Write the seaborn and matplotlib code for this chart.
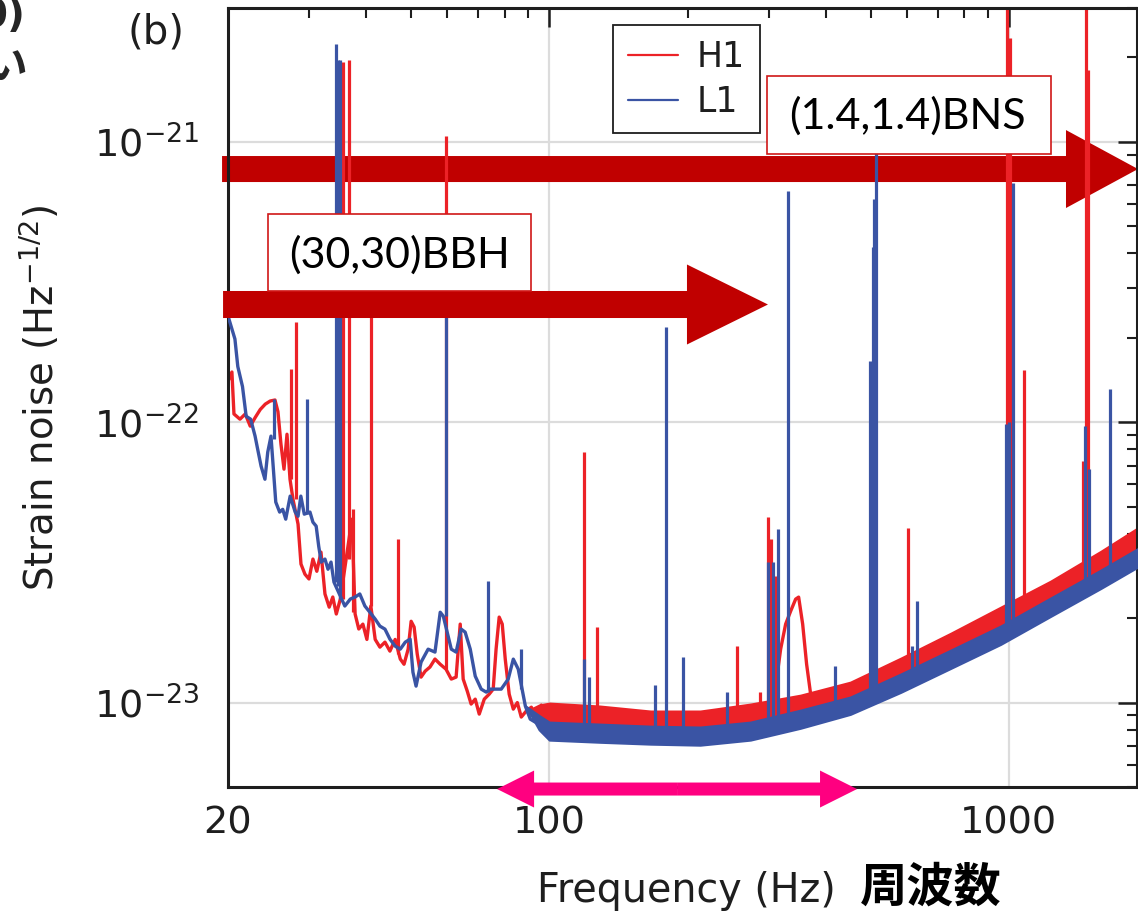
import numpy as np
import matplotlib
matplotlib.use("Agg")
import matplotlib.pyplot as plt
import seaborn as sns
from matplotlib.patches import FancyArrow, Rectangle
from matplotlib.ticker import FixedLocator, FixedFormatter, LogLocator, NullFormatter

# ---------------- data (strain values in units of 1e-23 Hz^-1/2) ----------------
UNIT = 1e-23

h1_freq = np.array([
    20.0, 20.39, 20.6, 21.23, 21.8, 22.35, 22.92, 23.5, 24.1, 24.7,
    25.3, 25.68, 26.07, 26.47, 26.87, 27.28, 27.69, 28.4, 28.82, 29.4,
    30.0, 30.6, 31.2, 31.86, 32.5, 33.2, 33.8, 34.4, 35.1, 37.2,
    37.8, 38.5, 39.3, 40.1, 40.9, 41.8, 42.8, 43.9, 45.0, 46.2,
    47.4, 48.3, 49.3, 50.05, 50.8, 51.6, 52.6, 53.7, 55.0, 56.4,
    57.9, 59.6, 61.2, 62.7, 64.0, 64.96, 66.3, 67.6, 69.0, 70.4,
    72.2, 74.0, 75.5, 76.6, 77.8, 79.0, 80.2, 81.8, 83.5, 85.2,
    86.9, 89.1, 91.4, 93.7, 96.1, 98.5,
    100, 129, 166, 213, 274, 298, 312.4, 318.7, 326.8, 335.1,
    343.6, 348.8, 355.9, 363.0, 370.4, 379.8, 452, 582, 748, 960,
    1233, 1587, 1919])
h1_amp = np.array([
    14.0, 15.1, 10.7, 10.25, 10.7, 9.68, 10.4, 11.1, 11.6, 11.9,
    12.0, 10.9, 8.35, 6.8, 9.06, 6.26, 5.31, 4.33, 3.12, 2.87,
    2.76, 3.25, 2.94, 3.44, 2.44, 2.19, 2.38, 2.07, 2.34, 4.51,
    2.07, 1.83, 1.905, 1.68, 2.21, 1.68, 1.577, 1.643, 1.526, 1.68,
    1.43, 1.37, 1.55, 1.95, 1.86, 1.49, 1.233, 1.295, 1.339, 1.43,
    1.37, 1.316, 1.213, 1.233, 1.905, 1.213, 1.099, 0.988, 1.029, 0.91,
    1.029, 1.072, 1.117, 1.551, 2.018, 1.905, 1.429, 1.072, 0.948, 1.0,
    0.888, 0.933, 0.963, 0.888, 0.98, 0.917,
    0.91, 0.88, 0.85, 0.85, 0.91, 0.93, 1.213, 1.551, 1.905, 2.119,
    2.339, 2.378, 1.905, 1.371, 1.072, 0.988, 1.10, 1.33, 1.61, 1.97,
    2.44, 3.12, 3.82])

l1_freq = np.array([
    20.0, 20.39, 20.7, 21.0, 21.5, 21.9, 22.4, 22.9, 23.2, 23.6,
    24.06, 24.4, 24.8, 25.4, 25.9, 26.3, 26.7, 27.3, 28.0, 28.4,
    28.8, 29.3, 30.15, 30.6, 31.1, 31.5, 31.9, 32.5, 33.0, 33.5,
    34.0, 35.9, 36.9, 37.8, 38.7, 39.7, 40.7, 41.8, 42.8, 43.9,
    45.0, 46.2, 47.4, 48.6, 49.8, 50.5, 51.3, 52.6, 54.5, 56.4,
    57.9, 58.8, 61.2, 62.7, 64.3, 65.6, 67.3, 69.0, 71.1, 72.9,
    74.4, 76.3, 78.6, 81.4, 83.5, 85.6, 88.7, 90.9, 93.2, 96.1,
    98.5,
    100, 129, 166, 213, 274, 352, 452, 582, 748, 960,
    1233, 1587, 1919])
l1_amp = np.array([
    23.9, 21.5, 19.8, 15.8, 13.4, 10.5, 10.25, 8.92, 8.01, 6.97,
    6.26, 7.82, 8.92, 5.19, 4.78, 4.89, 4.51, 5.45, 4.78, 4.62,
    5.45, 4.70, 4.78, 4.40, 4.26, 3.61, 3.17, 3.25, 2.99, 3.17,
    2.69, 2.21, 2.34, 2.38, 2.44, 2.21, 2.10, 1.985, 1.874, 1.828,
    1.684, 1.590, 1.551, 1.643, 1.684, 1.284, 1.145, 1.394, 1.551, 1.514,
    2.10, 2.034, 1.551, 1.514, 1.828, 1.784, 1.551, 1.243, 1.117, 1.090,
    1.117, 1.117, 1.117, 1.213, 1.429, 1.316, 0.972, 0.873, 0.852, 0.873,
    0.852,
    0.80, 0.78, 0.765, 0.76, 0.79, 0.87, 0.975, 1.17, 1.43, 1.74,
    2.19, 2.76, 3.30])

# dense noise floor (lower / upper envelope) from ~89 Hz upward
band_freq = np.array([89, 95, 100, 129, 166, 213, 274, 352, 452, 582, 748, 960, 1233, 1587, 1919])
h1_band_lo = np.array([0.93, 0.87, 0.831, 0.804, 0.772, 0.772, 0.818, 0.888, 0.996, 1.213, 1.477, 1.828, 2.282, 2.895, 3.526])
h1_band_hi = np.array([0.93, 0.98, 0.996, 0.972, 0.933, 0.933, 0.988, 1.063, 1.183, 1.441, 1.769, 2.190, 2.712, 3.468, 4.224])
l1_band_lo = np.array([0.97, 0.80, 0.735, 0.722, 0.711, 0.705, 0.735, 0.810, 0.908, 1.088, 1.325, 1.613, 2.030, 2.555, 3.060])
l1_band_hi = np.array([0.97, 0.90, 0.852, 0.838, 0.824, 0.818, 0.852, 0.940, 1.047, 1.265, 1.540, 1.876, 2.361, 2.972, 3.560])

# narrow lines: frequency, floor level, peak level
h1_line_freq = np.array([27.4, 28.1, 35.6, 36.7, 37.4, 40.9, 46.9, 59.6, 119.2, 127.3,
                         255.5, 286.8, 298.5, 303, 310.6, 508, 602, 990, 1005, 1078,
                         1449, 1471, 1486])
h1_line_base = np.array([6.26, 5.31, 2.34, 3.25, 2.1, 2.21, 1.49, 1.316, 0.91, 0.91,
                         0.888, 0.91, 0.933, 0.933, 0.948, 1.213, 1.339, 2.02, 2.02, 2.19,
                         2.87, 2.87, 2.87])
h1_line_top = np.array([15.45, 22.7, 192, 196, 4.89, 27.4, 3.83, 104.6, 7.82, 1.858,
                        1.59, 1.09, 4.585, 3.83, 2.825, 18.5, 4.19, 400, 234, 15.32,
                        7.26, 400, 181])

l1_line_freq = np.array([25.17, 29.7, 34.4, 34.7, 35.1, 59.6, 73.6, 86.9, 119.2, 122.2,
                         170.2, 179.8, 195.8, 244.2, 298.5, 306.1, 313.9, 330.0, 417.8, 498.0,
                         505.5, 508, 513.1, 614.8, 630.4, 985, 1000, 1020, 1464, 1494,
                         1660])
l1_line_base = np.array([8.70, 4.70, 2.69, 2.6, 2.34, 2.03, 1.09, 1.117, 0.80, 0.80,
                         0.77, 0.77, 0.77, 0.78, 0.80, 0.80, 0.80, 0.82, 0.95, 1.0,
                         1.0, 1.0, 1.0, 1.20, 1.22, 1.73, 1.73, 1.75, 2.5, 2.5,
                         2.76])
l1_line_top = np.array([12.08, 12.08, 224, 196, 196, 26.35, 2.71, 1.551, 1.43, 1.233,
                        1.154, 21.8, 1.453, 1.09, 3.17, 3.17, 4.155, 66.6, 1.349, 16.5,
                        42.06, 62.4, 94.0, 1.59, 2.30, 9.84, 9.99, 71.1, 9.67, 6.8,
                        13.11])

series_labels = ["H1", "L1"]
x_tick_values = [20, 100, 1000]
x_tick_labels = ["20", "100", "1000"]

assert len(h1_freq) == len(h1_amp) and len(l1_freq) == len(l1_amp)
assert len(h1_line_freq) == len(h1_line_base) == len(h1_line_top)
assert len(l1_line_freq) == len(l1_line_base) == len(l1_line_top)

# ---------------- style ----------------
sns.set_style("white")
plt.rcParams['font.family'] = ['DejaVu Sans', 'Noto Sans CJK JP']
plt.rcParams['mathtext.fontset'] = 'dejavusans'

RED = '#EC2227'
BLUE = '#3A54A4'
DARKRED = '#C00000'
PINK = '#FF0080'
INK = '#1E1E1E'

fig = plt.figure(figsize=(11.38, 9.11), dpi=100)
ax = fig.add_axes([0.2004, 0.1361, 0.7987, 0.8551])

# ---------------- data marks ----------------
ax.fill_between(band_freq, h1_band_lo * UNIT, h1_band_hi * UNIT, color=RED, lw=1.5, zorder=2)
sns.lineplot(x=h1_freq, y=h1_amp * UNIT, color=RED, lw=2.4, label=series_labels[0],
             ax=ax, zorder=2, estimator=None)
ax.vlines(h1_line_freq, h1_line_base * UNIT, h1_line_top * UNIT, color=RED, lw=2.3, zorder=2)

ax.fill_between(band_freq, l1_band_lo * UNIT, l1_band_hi * UNIT, color=BLUE, lw=1.5, zorder=3)
sns.lineplot(x=l1_freq, y=l1_amp * UNIT, color=BLUE, lw=2.4, label=series_labels[1],
             ax=ax, zorder=3, estimator=None)
ax.vlines(l1_line_freq, l1_line_base * UNIT, l1_line_top * UNIT, color=BLUE, lw=2.3, zorder=3)

# ---------------- axes ----------------
ax.set_xscale('log')
ax.set_yscale('log')
ax.set_xlim(20, 1900)
ax.set_ylim(5.0e-24, 3.0e-21)

ax.xaxis.set_major_locator(FixedLocator(x_tick_values))
ax.xaxis.set_major_formatter(FixedFormatter(x_tick_labels))
ax.xaxis.set_minor_locator(LogLocator(base=10, subs=np.arange(2, 10)))
ax.xaxis.set_minor_formatter(NullFormatter())
ax.yaxis.set_minor_locator(LogLocator(base=10, subs=np.arange(2, 10)))
ax.yaxis.set_minor_formatter(NullFormatter())

ax.tick_params(which='major', direction='in', length=14, width=1.8, color=INK,
               top=True, right=True, labelsize=27.5, labelcolor=INK)
ax.tick_params(which='minor', direction='in', length=7, width=1.5, color=INK,
               top=True, right=True)
ax.tick_params(axis='y', which='major', pad=21)
ax.tick_params(axis='x', which='major', pad=13)

for s in ax.spines.values():
    s.set_linewidth(2.2)
    s.set_color(INK)

ax.set_axisbelow(True)
ax.grid(True, which='major', color='#DCDCDC', lw=1.6)

ax.set_ylabel('Strain noise (Hz$^{-1/2}$)', fontsize=27.8, color=INK)
ax.yaxis.label.set_va('center')
ax.yaxis.set_label_coords(-0.207, 0.5)

ax.set_xlabel('Frequency (Hz)', fontsize=28.5, color=INK)
ax.xaxis.label.set_va('baseline')
ax.xaxis.set_label_coords(0.504, -0.1476)
ax.text(0.7734, -0.1297, '周波数', transform=ax.transAxes, fontsize=34,
        family=['Noto Sans CJK JP'], fontweight='bold', ha='center', va='center', color='black')

# ---------------- annotations ----------------
ax.add_patch(FancyArrow(-0.0066, 0.7933, 1.0077, 0.0, width=0.0334, head_width=0.1001,
                        head_length=0.0792, length_includes_head=True,
                        transform=ax.transAxes, color=DARKRED, lw=0, zorder=1.8, clip_on=False))
ax.add_patch(FancyArrow(-0.0055, 0.6194, 0.5995, 0.0, width=0.0347, head_width=0.1027,
                        head_length=0.0891, length_includes_head=True,
                        transform=ax.transAxes, color=DARKRED, lw=0, zorder=5, clip_on=False))

ax.add_patch(Rectangle((0.044, 0.6367), 0.2893, 0.0989, transform=ax.transAxes,
                       facecolor='white', edgecolor='#D01818', lw=1.2, zorder=5.5))
ax.text(0.1887, 0.683, '(30,30)BBH', transform=ax.transAxes, fontsize=31,
        family=['Lato', 'DejaVu Sans'], ha='center', va='center', color='black', zorder=6)
ax.add_patch(Rectangle((0.593, 0.8126), 0.3124, 0.1001, transform=ax.transAxes,
                       facecolor='white', edgecolor='#D01818', lw=1.2, zorder=5.5))
ax.text(0.7475, 0.861, '(1.4,1.4)BNS', transform=ax.transAxes, fontsize=31,
        family=['Lato', 'DejaVu Sans'], ha='center', va='center', color='black', zorder=6)

for dx in (-0.198, 0.198):
    ax.add_patch(FancyArrow(0.494, -0.0026, dx, 0.0, width=0.0167, head_width=0.0475,
                            head_length=0.0407, length_includes_head=True,
                            transform=ax.transAxes, color=PINK, lw=0, zorder=10, clip_on=False))

leg = ax.legend(loc='upper left', bbox_to_anchor=(0.4235, 0.978), fontsize=25,
                frameon=True, fancybox=False, edgecolor=INK, framealpha=1,
                borderpad=0.42, labelspacing=0.32, handlelength=1.45, handletextpad=0.55,
                borderaxespad=0)
leg.get_frame().set_linewidth(1.3)
leg.set_zorder(10)
for h in leg.get_lines():
    h.set_linewidth(1.6)
for t in leg.get_texts():
    t.set_color(INK)

fig.text(0.1371, 0.9638, '(b)', fontsize=29, ha='center', va='center', color=INK)
# fragments of the neighbouring panel's text at the left edge
fig.text(25 / 1138, 1 - 27 / 911, '0)', fontsize=28, fontweight='bold', ha='right', va='baseline')
fig.text(27 / 1138, 1 - 67 / 911, 'い', fontsize=30, family=['Noto Sans CJK JP'],
         fontweight='bold', ha='right', va='center')

fig.savefig('out.png', dpi=100)
